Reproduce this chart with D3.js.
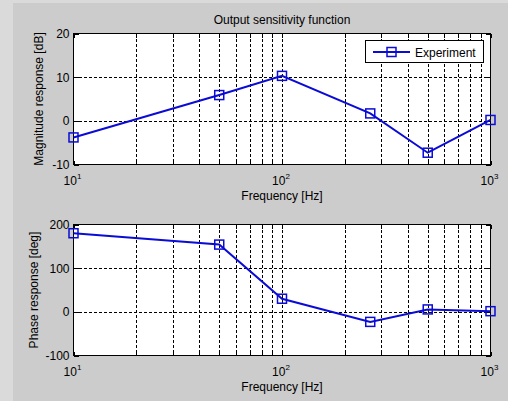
<html>
  <head>
    <title>Output sensitivity function</title>
    <script src="https://d3js.org/d3.v7.min.js"></script>
    <style>
      body { margin: 0; background-color: #cccccc; }
      svg { display: block; font-family: "Liberation Sans", Arial, sans-serif; }
      svg text { font-family: "Liberation Sans", Arial, sans-serif; fill: #000; }
      .grid line { stroke: #000; stroke-width: 1; stroke-dasharray: 3,2; shape-rendering: crispEdges; }
      .tick line { stroke: #000; shape-rendering: crispEdges; }
    </style>
  </head>
  <body>
    <svg width="508" height="401"></svg>
    <script>
      // data
      var freq = [10, 50, 100, 265, 500, 1000];
      var magnitude = [-3.8, 5.9, 10.3, 1.7, -7.3, 0.2];
      var phase = [180, 154, 30, -23, 5.5, 1.5];
      var magTicks = [-10, 0, 10, 20];
      var phaseTicks = [-100, 0, 100, 200];
      var freqTicks = [10, 100, 1000];
      var freqExp = ["1", "2", "3"];

      var svg = d3.select("svg");
      var W = 508, H = 401;

      svg.append("rect").attr("width", W).attr("height", H).attr("fill", "#cccccc");
      svg.append("rect").attr("width", 13).attr("height", H).attr("fill", "#dadada");
      svg.append("rect").attr("width", W).attr("height", 3).attr("fill", "#dadada");

      var x = d3.scaleLog().domain([10, 1000]).range([73.5, 490.5]);

      // minor grid positions 10..1000
      var gridX = [];
      [10, 100].forEach(function(d){
        for (var k = 1; k <= 9; k++) gridX.push(d * k);
      });
      gridX.push(1000);

      var drawPanel = function(top, bottom, yDomain, yTicks, values, yLabel, labelX, showLegend){
        var y = d3.scaleLinear().domain(yDomain).range([bottom, top]);
        var g = svg.append("g");

        g.append("rect")
          .attr("x", x(10)).attr("y", top)
          .attr("width", x(1000) - x(10)).attr("height", bottom - top)
          .attr("fill", "#fff");

        var grid = g.append("g").attr("class", "grid");
        grid.selectAll(".gx").data(gridX.filter(function(d){ return d > 10 && d < 1000; }))
          .enter().append("line")
          .attr("x1", function(d){ return Math.round(x(d)) + 0.5; })
          .attr("x2", function(d){ return Math.round(x(d)) + 0.5; })
          .attr("y1", top).attr("y2", bottom);
        grid.selectAll(".gy").data(yTicks.filter(function(d){ return d > yDomain[0] && d < yDomain[1]; }))
          .enter().append("line")
          .attr("x1", x(10)).attr("x2", x(1000))
          .attr("y1", function(d){ return Math.round(y(d)) + 0.5; })
          .attr("y2", function(d){ return Math.round(y(d)) + 0.5; });

        // inward ticks on all four sides
        var left = g.append("g").attr("transform", "translate(" + x(10) + ",0)")
          .call(d3.axisLeft(y).tickValues(yTicks).tickSize(-5).tickPadding(4)
            .tickFormat(function(d){ return String(d); }));
        left.select(".domain").remove();
        left.selectAll("text").attr("font-size", 12);

        var right = g.append("g").attr("transform", "translate(" + x(1000) + ",0)")
          .call(d3.axisRight(y).tickValues(yTicks).tickSize(-5).tickFormat(""));
        right.select(".domain").remove();

        var bot = g.append("g").attr("transform", "translate(0," + bottom + ")")
          .call(d3.axisBottom(x).tickValues(gridX).tickSize(-4).tickFormat(""));
        bot.select(".domain").remove();
        var topAx = g.append("g").attr("transform", "translate(0," + top + ")")
          .call(d3.axisTop(x).tickValues(gridX).tickSize(-4).tickFormat(""));
        topAx.select(".domain").remove();

        // decade labels 10^n
        var lab = g.selectAll(".xl").data(freqTicks).enter().append("text")
          .attr("x", function(d){ return x(d) - 1; })
          .attr("y", bottom + 20)
          .attr("text-anchor", "middle")
          .attr("font-size", 12);
        lab.append("tspan").text("10");
        lab.append("tspan").attr("dy", -6).attr("font-size", 8)
          .text(function(d, i){ return freqExp[i]; });

        g.append("rect")
          .attr("x", x(10)).attr("y", top)
          .attr("width", x(1000) - x(10)).attr("height", bottom - top)
          .attr("fill", "none").attr("stroke", "#000").attr("stroke-width", 1);

        var pts = freq.map(function(f, i){ return [x(f), y(values[i])]; });
        g.append("path")
          .attr("d", d3.line()(pts))
          .attr("fill", "none").attr("stroke", "#0b0bd6").attr("stroke-width", 2);
        g.selectAll(".mk").data(pts).enter().append("rect")
          .attr("x", function(d){ return d[0] - 4.5; })
          .attr("y", function(d){ return d[1] - 4.5; })
          .attr("width", 9).attr("height", 9)
          .attr("fill", "none").attr("stroke", "#0b0bd6").attr("stroke-width", 1.5);

        g.append("text")
          .attr("x", (x(10) + x(1000)) / 2).attr("y", bottom + 35)
          .attr("text-anchor", "middle").attr("font-size", 12)
          .text("Frequency [Hz]");

        g.append("text")
          .attr("transform", "translate(" + labelX + "," + ((top + bottom) / 2) + ") rotate(-90)")
          .attr("text-anchor", "middle").attr("font-size", 12)
          .text(yLabel);

        if (showLegend) {
          var lg = g.append("g");
          lg.append("rect").attr("x", 365.5).attr("y", 40.5).attr("width", 118).attr("height", 22)
            .attr("fill", "#fff").attr("stroke", "#000");
          lg.append("line").attr("x1", 373).attr("x2", 410).attr("y1", 52).attr("y2", 52)
            .attr("stroke", "#0b0bd6").attr("stroke-width", 2);
          lg.append("rect").attr("x", 387).attr("y", 47.5).attr("width", 9).attr("height", 9)
            .attr("fill", "none").attr("stroke", "#0b0bd6").attr("stroke-width", 1.5);
          lg.append("text").attr("x", 415).attr("y", 56.5).attr("font-size", 12).text("Experiment");
        }
      };

      svg.append("text")
        .attr("x", (x(10) + x(1000)) / 2).attr("y", 24)
        .attr("text-anchor", "middle").attr("font-size", 12)
        .text("Output sensitivity function");

      drawPanel(33.5, 164.5, [-10, 20], magTicks, magnitude, "Magnitude response [dB]", 43, true);
      drawPanel(224.5, 355.5, [-100, 200], phaseTicks, phase, "Phase response [deg]", 38, false);
    </script>
  </body>
</html>
